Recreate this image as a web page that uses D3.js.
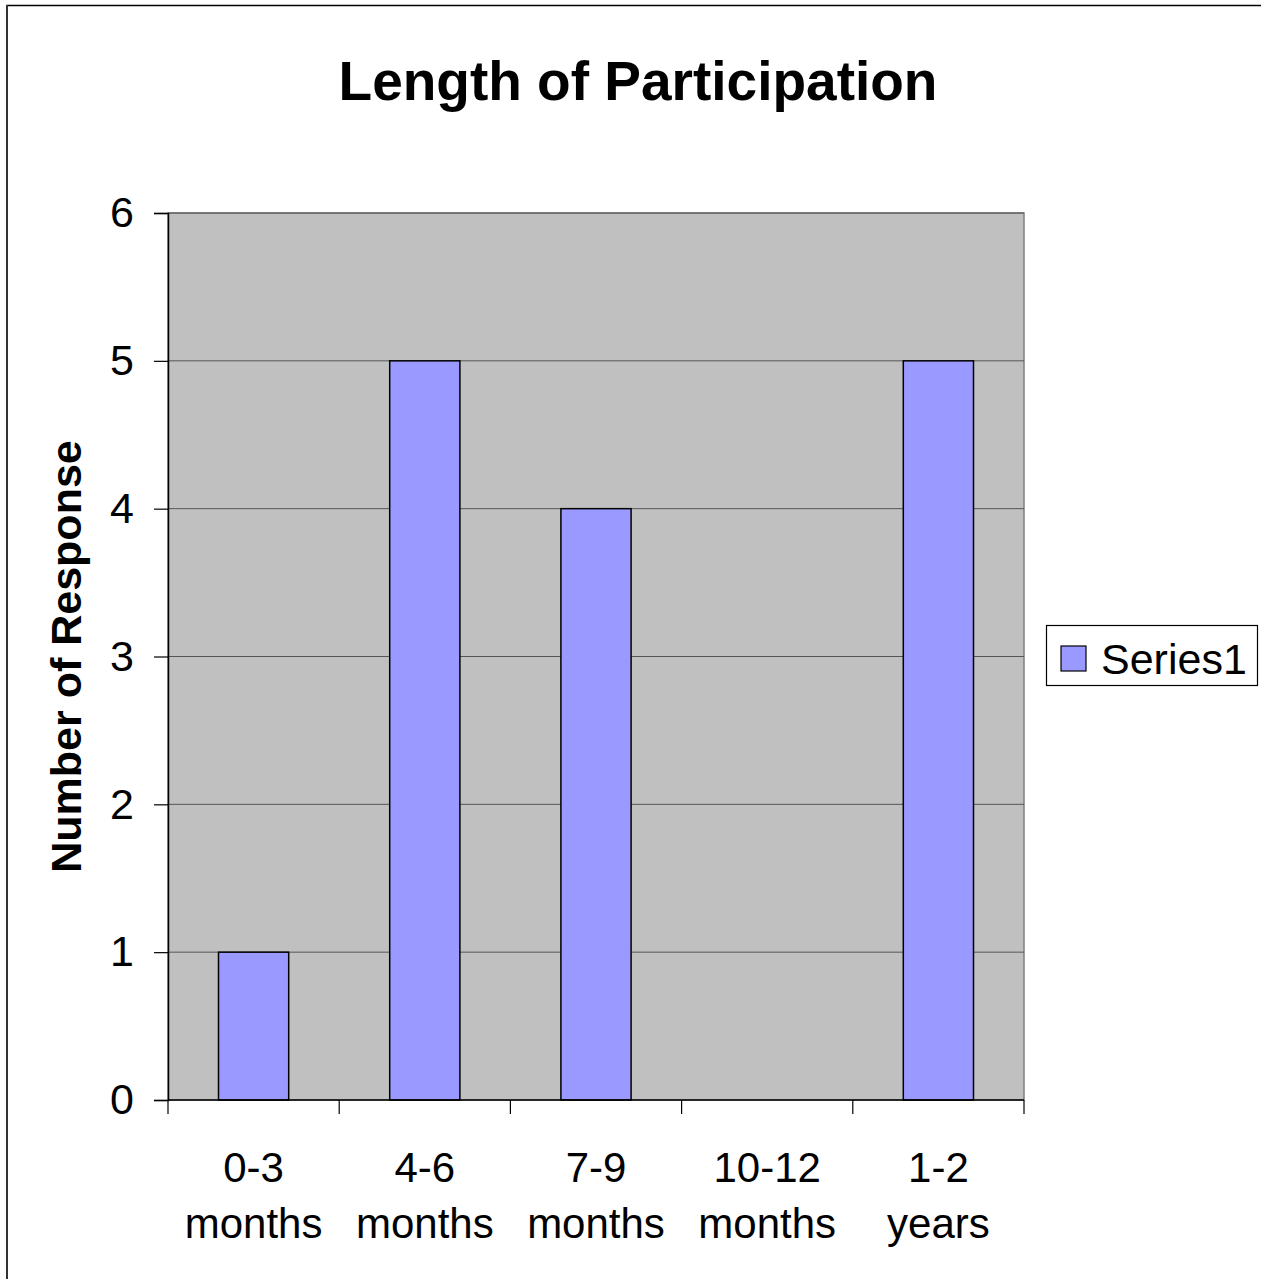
<!DOCTYPE html>
<html>
<head>
<meta charset="utf-8">
<script src="https://cdnjs.cloudflare.com/ajax/libs/d3/7.8.5/d3.min.js"></script>
<style>
  body { margin: 0; background: #ffffff; }
  svg { display: block; font-family: "Liberation Sans", Arial, sans-serif; }
</style>
</head>
<body>
<svg id="chart" width="1261" height="1279"></svg>
<script>
// data
var categories = ["0-3 months", "4-6 months", "7-9 months", "10-12 months", "1-2 years"];
var values = [1, 5, 4, 0, 5];
var yTicks = [0, 1, 2, 3, 4, 5, 6];
var seriesName = "Series1";

var svg = d3.select("#chart");

var plot = { left: 168, top: 213, right: 1024, bottom: 1100 };

// outer frame (only top and left show)
svg.append("line").attr("x1", 6).attr("y1", 5.5).attr("x2", 1261).attr("y2", 5.5)
   .attr("stroke", "#000").attr("stroke-width", 1.5);
svg.append("line").attr("x1", 7).attr("y1", 5).attr("x2", 7).attr("y2", 1279)
   .attr("stroke", "#333").attr("stroke-width", 2);

var x = d3.scaleBand().domain(categories).range([plot.left, plot.right]).paddingInner(0.59).paddingOuter(0.295);
var xb = d3.scaleBand().domain(categories).range([plot.left, plot.right]);
var y = d3.scaleLinear().domain([0, 6]).range([plot.bottom, plot.top]);

// plot background
svg.append("rect")
   .attr("x", plot.left).attr("y", plot.top)
   .attr("width", plot.right - plot.left).attr("height", plot.bottom - plot.top)
   .attr("fill", "#c0c0c0").attr("stroke", "#808080").attr("stroke-width", 1.5);

// gridlines
svg.selectAll("line.grid")
   .data(yTicks.filter(function(d) { return d > 0; }))
   .enter().append("line")
   .attr("class", "grid")
   .attr("x1", plot.left).attr("x2", plot.right)
   .attr("y1", function(d) { return y(d); }).attr("y2", function(d) { return y(d); })
   .attr("stroke", "#555").attr("stroke-width", 1);

// bars
svg.selectAll("rect.bar")
   .data(values)
   .enter().append("rect")
   .attr("class", "bar")
   .attr("x", function(d, i) { return x(categories[i]); })
   .attr("y", function(d) { return y(d); })
   .attr("width", x.bandwidth())
   .attr("height", function(d) { return y(0) - y(d); })
   .attr("fill", "#9999ff")
   .attr("stroke", "#000").attr("stroke-width", 1.5)
   .style("display", function(d) { return d > 0 ? null : "none"; });

// y axis
var yAxis = svg.append("g")
   .attr("transform", "translate(" + plot.left + ",0)")
   .call(d3.axisLeft(y).tickValues(yTicks).tickSize(14).tickPadding(20).tickFormat(d3.format("d")));
yAxis.select(".domain").attr("stroke", "#000").attr("stroke-width", 1.5);
yAxis.selectAll(".tick line").attr("stroke", "#000").attr("stroke-width", 1.2);
yAxis.selectAll(".tick text").attr("font-size", 43).attr("fill", "#000")
   .attr("font-family", "Liberation Sans, Arial, sans-serif");

// x axis
var xAxis = svg.append("g")
   .attr("transform", "translate(0," + plot.bottom + ")");
xAxis.append("line").attr("x1", plot.left).attr("x2", plot.right)
   .attr("stroke", "#000").attr("stroke-width", 1.5);
var edges = categories.map(function(c) { return xb(c); }).concat([plot.right]);
xAxis.selectAll("line.xt")
   .data(edges)
   .enter().append("line")
   .attr("class", "xt")
   .attr("x1", function(d) { return d; }).attr("x2", function(d) { return d; })
   .attr("y1", 0).attr("y2", 14)
   .attr("stroke", "#000").attr("stroke-width", 1.2);

var labels = xAxis.selectAll("text.xl")
   .data(categories)
   .enter().append("text")
   .attr("class", "xl")
   .attr("text-anchor", "middle")
   .attr("font-size", 42)
   .attr("fill", "#000")
   .attr("x", function(d) { return xb(d) + xb.bandwidth() / 2; });
labels.each(function(d) {
  var parts = d.split(" ");
  var t = d3.select(this);
  parts.forEach(function(p, j) {
    t.append("tspan").attr("x", xb(d) + xb.bandwidth() / 2).attr("y", 82 + j * 56).text(p);
  });
});

// y title
svg.append("text")
   .attr("transform", "translate(81," + ((plot.top + plot.bottom) / 2) + ") rotate(-90)")
   .attr("text-anchor", "middle")
   .attr("font-size", 43).attr("font-weight", "bold")
   .text("Number of Response");

// title
svg.append("text")
   .attr("x", 638).attr("y", 100)
   .attr("text-anchor", "middle")
   .attr("font-size", 55).attr("font-weight", "bold")
   .text("Length of Participation");

// legend
var lg = svg.append("g");
lg.append("rect").attr("x", 1046.5).attr("y", 625.5).attr("width", 211).attr("height", 60)
  .attr("fill", "#fff").attr("stroke", "#000").attr("stroke-width", 1.2);
lg.append("rect").attr("x", 1061).attr("y", 646).attr("width", 25).attr("height", 25)
  .attr("fill", "#9999ff").attr("stroke", "#000").attr("stroke-width", 1.2);
lg.append("text").attr("x", 1101).attr("y", 674).attr("font-size", 43).text(seriesName);
</script>
</body>
</html>
